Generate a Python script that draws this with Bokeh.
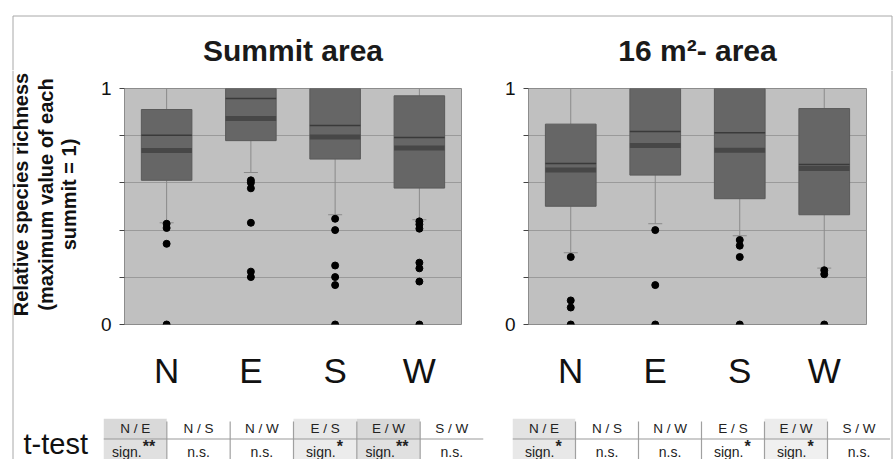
import math
from bokeh.plotting import figure
from bokeh.layouts import row, column
from bokeh.models import FactorRange, Range1d, FixedTicker
from bokeh.core.properties import value
from bokeh.embed import file_html
from bokeh.resources import INLINE

FONT = "Liberation Sans"

# ---------------- data ----------------
directions = ["N", "E", "S", "W"]
y_label_ticks = [0, 1]
y_minor_ticks = [0.2, 0.4, 0.6, 0.8]
y_axis_lines = ["Relative species richness", "(maximum value of each", "summit = 1)"]

summit_title = "Summit area"
summit_q1 = [0.611, 0.779, 0.701, 0.578]
summit_q3 = [0.911, 1.0, 1.0, 0.969]
summit_median = [0.737, 0.873, 0.795, 0.748]
summit_mean = [0.802, 0.958, 0.843, 0.792]
summit_low = [0.431, 0.644, 0.465, 0.444]
summit_high = [1.0, 1.0, 1.0, 1.0]
summit_outliers = [
    [0.427, 0.409, 0.342, 0.0],
    [0.611, 0.601, 0.577, 0.431, 0.224, 0.201],
    [0.448, 0.400, 0.250, 0.201, 0.167, 0.0],
    [0.437, 0.424, 0.406, 0.262, 0.238, 0.182, 0.0],
]

area_title = "16 m²- area"
area_q1 = [0.501, 0.633, 0.533, 0.465]
area_q3 = [0.849, 1.0, 1.0, 0.915]
area_median = [0.655, 0.758, 0.738, 0.661]
area_mean = [0.682, 0.818, 0.813, 0.678]
area_low = [0.304, 0.427, 0.376, 0.239]
area_high = [1.0, 1.0, 1.0, 1.0]
area_outliers = [
    [0.286, 0.102, 0.072, 0.0],
    [0.400, 0.167, 0.0],
    [0.358, 0.334, 0.286, 0.0],
    [0.230, 0.213, 0.0],
]

ttest_label = "t-test"
pairs = ["N / E", "N / S", "N / W", "E / S", "E / W", "S / W"]
summit_result = ["sign.", "n.s.", "n.s.", "sign.", "sign.", "n.s."]
summit_stars = ["**", "", "", "*", "**", ""]
area_result = ["sign.", "n.s.", "n.s.", "sign.", "sign.", "n.s."]
area_stars = ["*", "", "", "*", "*", ""]

# cell shading (style)
summit_head_fill = ["#d9d9d9", "#ffffff", "#ffffff", "#e8e8e8", "#d9d9d9", "#ffffff"]
summit_val_fill = ["#e0e0e0", "#ffffff", "#ffffff", "#ececec", "#e0e0e0", "#ffffff"]
area_head_fill = ["#e3e3e3", "#ffffff", "#ffffff", "#ffffff", "#ececec", "#ffffff"]
area_val_fill = ["#e8e8e8", "#ffffff", "#ffffff", "#ffffff", "#f0f0f0", "#ffffff"]

FRAME = "#a8a8a8"


def blank(width, height, xr, yr):
    f = figure(width=width, height=height, x_range=xr, y_range=yr,
               output_backend="svg", toolbar_location=None, min_border=0,
               x_axis_location=None, y_axis_location=None, outline_line_color=None,
               background_fill_color="#ffffff", border_fill_color="#ffffff")
    f.grid.visible = False
    return f


def box_panel(q1, q3, med, mean, low, high, outl, width, left, right):
    p = figure(width=width, height=330, x_range=FactorRange(*directions), y_range=Range1d(0, 1),
               output_backend="svg", toolbar_location=None,
               min_border_left=left, min_border_right=right, min_border_top=18, min_border_bottom=76,
               background_fill_color="#c0c0c0", border_fill_color="#ffffff",
               outline_line_color="#8c8c8c", outline_line_width=1)

    p.xgrid.grid_line_color = None
    p.ygrid.ticker = FixedTicker(ticks=y_minor_ticks)
    p.ygrid.grid_line_color = "#9a9a9a"

    xa = p.xaxis[0]
    xa.axis_line_color = None
    xa.major_tick_line_color = None
    xa.minor_tick_line_color = None
    xa.major_label_text_font = FONT
    xa.major_label_text_font_size = "35px"
    xa.major_label_text_color = "#111111"
    xa.major_label_standoff = 20

    ya = p.yaxis[0]
    ya.ticker = FixedTicker(ticks=y_label_ticks, minor_ticks=y_minor_ticks)
    ya.axis_line_color = "#8c8c8c"
    ya.major_tick_in = 0
    ya.major_tick_out = 5
    ya.minor_tick_in = 0
    ya.minor_tick_out = 5
    ya.major_tick_line_color = "#444444"
    ya.minor_tick_line_color = "#444444"
    ya.major_label_text_font = FONT
    ya.major_label_text_font_size = "19px"
    ya.major_label_text_color = "#111111"
    ya.major_label_standoff = 8

    # whiskers
    p.segment(x0=directions, y0=q3, x1=directions, y1=high, line_color="#8a8a8a", line_width=1)
    p.segment(x0=directions, y0=q1, x1=directions, y1=low, line_color="#8a8a8a", line_width=1)
    p.scatter(x=directions, y=low, marker="dash", size=14, line_color="#8a8a8a", line_width=1)
    # boxes
    p.vbar(x=directions, bottom=q1, top=q3, width=0.6, fill_color="#666666", line_color="#5a5a5a")
    p.rect(x=directions, y=med, width=0.6, height=5, height_units="screen",
           fill_color="#474747", line_color=None)
    p.rect(x=directions, y=mean, width=0.6, height=1.5, height_units="screen",
           fill_color="#3a3a3a", line_color=None)
    # outliers
    ox, oy = [], []
    for d, vals in zip(directions, outl):
        for v in vals:
            ox.append(d)
            oy.append(v)
    p.scatter(x=ox, y=oy, size=7, fill_color="#000000", line_color="#000000")
    return p


def table_panel(width, left, right, results, stars, head_fill, val_fill):
    t = figure(width=width, height=59, x_range=FactorRange(*pairs), y_range=FactorRange("result", "pair"),
               output_backend="svg", toolbar_location=None,
               min_border_left=left, min_border_right=right, min_border_top=18, min_border_bottom=0,
               x_axis_location=None, y_axis_location=None, outline_line_color=None,
               background_fill_color="#ffffff", border_fill_color="#ffffff")
    t.grid.visible = False
    t.rect(x=pairs, y=["pair"] * len(pairs), width=1, height=1, fill_color=head_fill, line_color=None)
    t.rect(x=pairs, y=["result"] * len(pairs), width=1, height=1, fill_color=val_fill, line_color=None)
    # dividers
    bx = [(c, 0.5) for c in pairs[:-1]]
    t.segment(x0=bx, y0=[("result", -0.5)] * len(bx), x1=bx, y1=[("pair", 0.35)] * len(bx),
              line_color="#a0a0a0", line_width=1.2)
    t.segment(x0=[(pairs[0], -0.5)], y0=[("pair", -0.5)], x1=[(pairs[-1], 0.5)], y1=[("pair", -0.5)],
              line_color="#999999", line_width=1.2)
    t.text(x=pairs, y=["pair"] * len(pairs), text=pairs, text_align="center", text_baseline="middle",
           text_font=value(FONT), text_font_size="13.5px", text_color="#222222")
    sx, so, st, stx = [], [], [], []
    nx = []
    for c, r, s in zip(pairs, results, stars):
        if s:
            sx.append(c)
            so.append(14.5 - 4 * len(s))
            st.append(s)
            stx.append(14.5 - 4 * len(s) + 1)
        else:
            nx.append(c)
    t.text(x=sx, y=["result"] * len(sx), text=["sign."] * len(sx), x_offset=so, y_offset=3,
           text_align="right", text_baseline="middle", text_font=value(FONT),
           text_font_size="14px", text_color="#222222")
    t.text(x=sx, y=["result"] * len(sx), text=st, x_offset=stx, y_offset=-3,
           text_align="left", text_baseline="middle", text_font=value(FONT), text_font_style="bold",
           text_font_size="16px", text_color="#222222")
    t.text(x=nx, y=["result"] * len(nx), text=["n.s."] * len(nx), y_offset=3,
           text_align="center", text_baseline="middle", text_font=value(FONT),
           text_font_size="14px", text_color="#222222")
    return t


# top strip: outer frame lines and the two panel titles
top = blank(893, 70, Range1d(0, 893), Range1d(70, 0))
top.segment(x0=[12.5, 12.5, 891.5], y0=[15.5, 15.5, 15.5], x1=[891.5, 12.5, 891.5], y1=[15.5, 70, 70],
            line_color=FRAME, line_width=1)
top.text(x=[292.5, 697], y=[50, 50], text=[summit_title, area_title], text_align="center",
         text_baseline="middle", text_font=value(FONT), text_font_size="30px",
         text_font_style="bold", text_color="#1a1a1a")

# left strip: y-axis title and the "t-test" label
side = blank(90, 389, Range1d(0, 90), Range1d(389, 0))
side.segment(x0=[12.5], y0=[0], x1=[12.5], y1=[389], line_color=FRAME, line_width=1)
side.text(x=[20.5, 45.5, 68.5], y=[124, 124, 124], text=y_axis_lines, angle=math.pi / 2,
          text_align="center", text_baseline="middle", text_font=value(FONT),
          text_font_size="20px", text_font_style="bold", text_color="#111111")
side.text(x=[23], y=[373], text=[ttest_label], text_align="left", text_baseline="middle",
          text_font=value(FONT), text_font_size="29px", text_color="#111111")

# right strip: outer frame line
rside = blank(3, 389, Range1d(0, 3), Range1d(389, 0))
rside.segment(x0=[1.5], y0=[0], x1=[1.5], y1=[389], line_color=FRAME, line_width=1)

fig_l = box_panel(summit_q1, summit_q3, summit_median, summit_mean, summit_low,
                  summit_high, summit_outliers, 405, 34, 34)
fig_r = box_panel(area_q1, area_q3, area_median, area_mean, area_low,
                  area_high, area_outliers, 395, 33, 24)
tab_l = table_panel(405, 13, 12, summit_result, summit_stars, summit_head_fill, summit_val_fill)
tab_r = table_panel(395, 17, 0, area_result, area_stars, area_head_fill, area_val_fill)

layout = column(top, row(side, column(row(fig_l, fig_r), row(tab_l, tab_r)), rside))

open("out.html", "w").write(file_html(layout, INLINE))
